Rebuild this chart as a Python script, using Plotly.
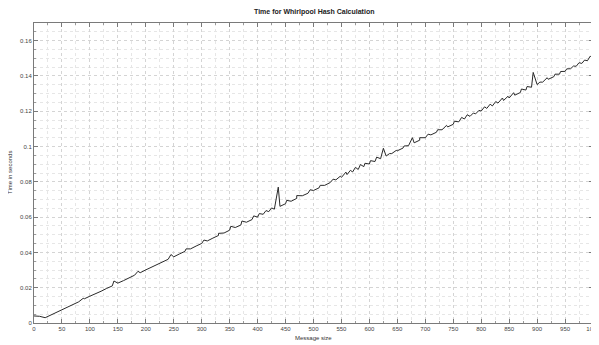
import plotly.graph_objects as go

# Baseline samples (message size step 10)
base_x = list(range(0, 1001, 10))
base_y = [
    0.0040, 0.0038, 0.0030, 0.0045, 0.0061, 0.0075, 0.0091, 0.0106, 0.0120, 0.0137,
    0.0152, 0.0165, 0.0180, 0.0196, 0.0210, 0.0226, 0.0240, 0.0256, 0.0271, 0.0285,
    0.0301, 0.0316, 0.0330, 0.0346, 0.0361, 0.0375, 0.0391, 0.0406, 0.0420, 0.0436,
    0.0451, 0.0465, 0.0481, 0.0496, 0.0510, 0.0526, 0.0541, 0.0555, 0.0571, 0.0586,
    0.0600, 0.0616, 0.0631, 0.0645, 0.0661, 0.0676, 0.0690, 0.0706, 0.0721, 0.0735,
    0.0751, 0.0766, 0.0780, 0.0796, 0.0811, 0.0825, 0.0841, 0.0856, 0.0870, 0.0886,
    0.0901, 0.0915, 0.0931, 0.0946, 0.0960, 0.0976, 0.0991, 0.1005, 0.1021, 0.1036,
    0.1050, 0.1066, 0.1081, 0.1095, 0.1111, 0.1126, 0.1140, 0.1156, 0.1171, 0.1185,
    0.1201, 0.1216, 0.1230, 0.1246, 0.1261, 0.1275, 0.1291, 0.1306, 0.1320, 0.1336,
    0.1351, 0.1365, 0.1381, 0.1396, 0.1410, 0.1426, 0.1441, 0.1455, 0.1471, 0.1486,
    0.1500,
]

# Occasional timing spikes
spike_x = [88, 143, 186, 245, 272, 304, 330, 352, 372, 393, 403, 415, 425, 437, 452,
           470, 494, 512, 535, 548, 558, 566, 575, 584, 592, 602, 613, 625, 636, 648,
           662, 677, 690, 705, 722, 738, 752, 765, 775, 786, 796, 806, 816, 826, 838,
           848, 858, 872, 882, 893, 905, 918, 932, 942, 953, 965, 975, 985, 995]
spike_y = [0.0140, 0.0238, 0.0293, 0.0388, 0.0420, 0.0470, 0.0508, 0.0548, 0.0578, 0.0607,
           0.0620, 0.0637, 0.0652, 0.0770, 0.0695, 0.0722, 0.0755, 0.0780, 0.0815, 0.0832,
           0.0855, 0.0865, 0.0882, 0.0898, 0.0905, 0.0920, 0.0940, 0.0990, 0.0960, 0.0978,
           0.1003, 0.1050, 0.1050, 0.1070, 0.1095, 0.1120, 0.1143, 0.1165, 0.1180, 0.1190,
           0.1205, 0.1225, 0.1240, 0.1255, 0.1275, 0.1285, 0.1305, 0.1326, 0.1340, 0.1420,
           0.1365, 0.1390, 0.1410, 0.1425, 0.1440, 0.1456, 0.1475, 0.1490, 0.1512]

pts = sorted(list(zip(base_x, base_y)) + list(zip(spike_x, spike_y)))
xs = [p[0] for p in pts]
ys = [p[1] for p in pts]

x_ticks = list(range(0, 1001, 50))
y_ticks = [0, 0.02, 0.04, 0.06, 0.08, 0.1, 0.12, 0.14, 0.16]
y_labels = ["0", "0.02", "0.04", "0.06", "0.08", "0.1", "0.12", "0.14", "0.16"]

fig = go.Figure()
fig.add_trace(go.Scatter(x=xs, y=ys, mode="lines",
                         line=dict(color="#2a2a2a", width=1), showlegend=False))

font = "Liberation Sans, Arial, sans-serif"
axis_common = dict(
    showline=True, linecolor="#7a7a7a", linewidth=1, mirror="allticks",
    ticks="inside", ticklen=4, tickcolor="#7a7a7a",
    showgrid=True, gridcolor="#d4d4d4", griddash="dot", gridwidth=1,
    zeroline=False, tickfont=dict(size=6, color="#444", family=font),
    automargin=False, ticklabeloverflow="allow",
)

# page body has an 8px default margin, so the figure is sized to fit the window
fig.update_layout(
    width=591, height=337,
    margin=dict(l=26, r=6, t=15, b=22),
    paper_bgcolor="white", plot_bgcolor="white",
    xaxis=dict(range=[0, 1000], tickvals=x_ticks,
               minor=dict(dtick=25, tick0=0, ticks="inside", ticklen=2, tickcolor="#9a9a9a",
                          showgrid=True, gridcolor="#e6e6e6", griddash="dot"),
               **axis_common),
    yaxis=dict(range=[0, 0.17], tickvals=y_ticks, ticktext=y_labels,
               minor=dict(dtick=0.005, tick0=0, ticks="inside", ticklen=2, tickcolor="#9a9a9a",
                          showgrid=True, gridcolor="#e6e6e6", griddash="dot"),
               **axis_common),
    annotations=[
        dict(text="<b>Time for Whirlpool Hash Calculation</b>", xref="paper", yref="paper",
             x=0.5, y=1, yshift=11, xanchor="center", yanchor="middle", showarrow=False,
             font=dict(size=7, color="#222", family=font)),
        dict(text="Message size", xref="paper", yref="paper",
             x=0.5, y=0, yshift=-15, xanchor="center", yanchor="middle", showarrow=False,
             font=dict(size=6, color="#333", family=font)),
        dict(text="Time in seconds", xref="paper", yref="paper", textangle=-90,
             x=0, xshift=-24, y=0.5, xanchor="center", yanchor="middle", showarrow=False,
             font=dict(size=6, color="#333", family=font)),
    ],
)

fig.write_html("out.html")
